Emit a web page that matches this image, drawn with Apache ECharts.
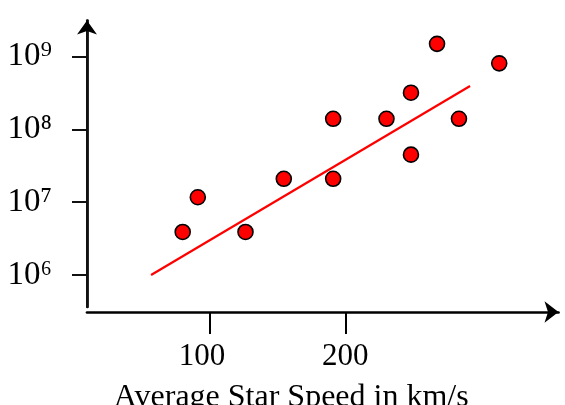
<!DOCTYPE html>
<html>
<head>
<meta charset="utf-8">
<script src="https://cdn.jsdelivr.net/npm/echarts@6/dist/echarts.min.js"></script>
<style>
  html, body { margin: 0; padding: 0; background: #fff; }
  #chart { width: 565px; height: 405px; }
</style>
</head>
<body>
<div id="chart"></div>
<script>
// Average star speed (km/s) and black hole mass (solar masses)
const speeds = [87, 94, 120, 146, 188, 188, 247, 280, 280, 320, 358, 440];
const masses = [3.9e6, 1.17e7, 3.9e6, 2.1e7, 2.1e7, 1.4e8, 1.4e8, 3.2e8, 4.5e7, 1.5e9, 1.4e8, 8.1e8];
// Fitted trend line end points
const trendSpeeds = [74, 379];
const trendMasses = [1e6, 3.95e8];
// Tick values and tick labels
const xTickValues = [100, 200];
const yTickValues = [1e6, 1e7, 1e8, 1e9];
const yTickLabels = ['10\u2076', '10\u2077', '10\u2078', '10\u2079'];
const xAxisTitle = 'Average Star Speed in km/s';

// Both axes are logarithmic: plot log10 of the values on value axes
const lg = Math.log10;
const points = speeds.map((s, i) => [lg(s), lg(masses[i])]);
const trend = trendSpeeds.map((s, i) => [lg(s), lg(trendMasses[i])]);
const xTicks = xTickValues.map(lg);
const yTicks = yTickValues.map(lg);

const FONT = 'Liberation Serif';
const Y_MIN = 5.56, Y_MAX = 9.497;
const chart = echarts.init(document.getElementById('chart'), null, { renderer: 'canvas' });
chart.setOption({
  backgroundColor: '#ffffff',
  animation: false,
  grid: { left: 87, right: 6.5, top: 20.5, bottom: 98, containLabel: false, outerBoundsMode: 'none' },
  xAxis: {
    type: 'value',
    min: lg(53.3),
    max: lg(596),
    offset: 5,
    name: xAxisTitle,
    nameLocation: 'middle',
    nameGap: 70,
    nameTextStyle: { fontFamily: FONT, fontSize: 32, color: '#000', padding: [0, 63, 0, 0] },
    axisLine: { show: true, onZero: false, symbol: ['none', 'arrow'], symbolSize: [16, 14],
      lineStyle: { color: '#000', width: 2.7 } },
    axisTick: { show: true, interval: 0, length: 22, customValues: xTicks,
      lineStyle: { color: '#000', width: 2 } },
    axisLabel: { show: true, interval: 0, margin: 29, customValues: xTicks,
      formatter: v => {
        const n = Math.round(Math.pow(10, v));
        return n === 100 ? '{l|' + n + '}' : '{n|' + n + '}';
      },
      rich: {
        n: { fontFamily: FONT, fontSize: 31, color: '#000' },
        l: { fontFamily: FONT, fontSize: 31, color: '#000', padding: [0, 16, 0, 0] }
      } },
    splitLine: { show: false }
  },
  yAxis: [
    {
      type: 'value',
      min: Y_MIN,
      max: Y_MAX,
      position: 'left',
      axisLine: { show: true, onZero: false, symbol: ['none', 'arrow'], symbolSize: [15, 14],
        lineStyle: { color: '#000', width: 2.7 } },
      axisTick: { show: true, interval: 0, length: 15, customValues: yTicks,
        lineStyle: { color: '#111111', width: 2 } },
      axisLabel: { show: true, interval: 0, margin: 35, customValues: yTicks,
        fontFamily: FONT, fontSize: 33, color: '#000', padding: [3, 0, 0, 0],
        formatter: v => yTickLabels[yTicks.findIndex(t => Math.abs(t - v) < 1e-6)] },
      splitLine: { show: false }
    },
    {
      // tick marks of the same scale (drawn over the main axis line)
      type: 'value',
      min: Y_MIN,
      max: Y_MAX,
      position: 'left',
      axisLine: { show: true, onZero: false, lineStyle: { color: '#111111', width: 2 } },
      axisTick: { show: true, length: 15, customValues: yTicks,
        lineStyle: { color: '#111111', width: 2 } },
      axisLabel: { show: false },
      splitLine: { show: false }
    }
  ],
  series: [
    {
      type: 'line',
      data: trend,
      showSymbol: false,
      symbol: 'none',
      lineStyle: { color: '#ff0000', width: 2.2 },
      z: 2
    },
    {
      type: 'scatter',
      data: points,
      symbol: 'circle',
      symbolSize: 15,
      itemStyle: { color: '#ff0000', borderColor: '#000', borderWidth: 1.6, opacity: 1 },
      z: 3
    }
  ]
});
</script>
</body>
</html>
